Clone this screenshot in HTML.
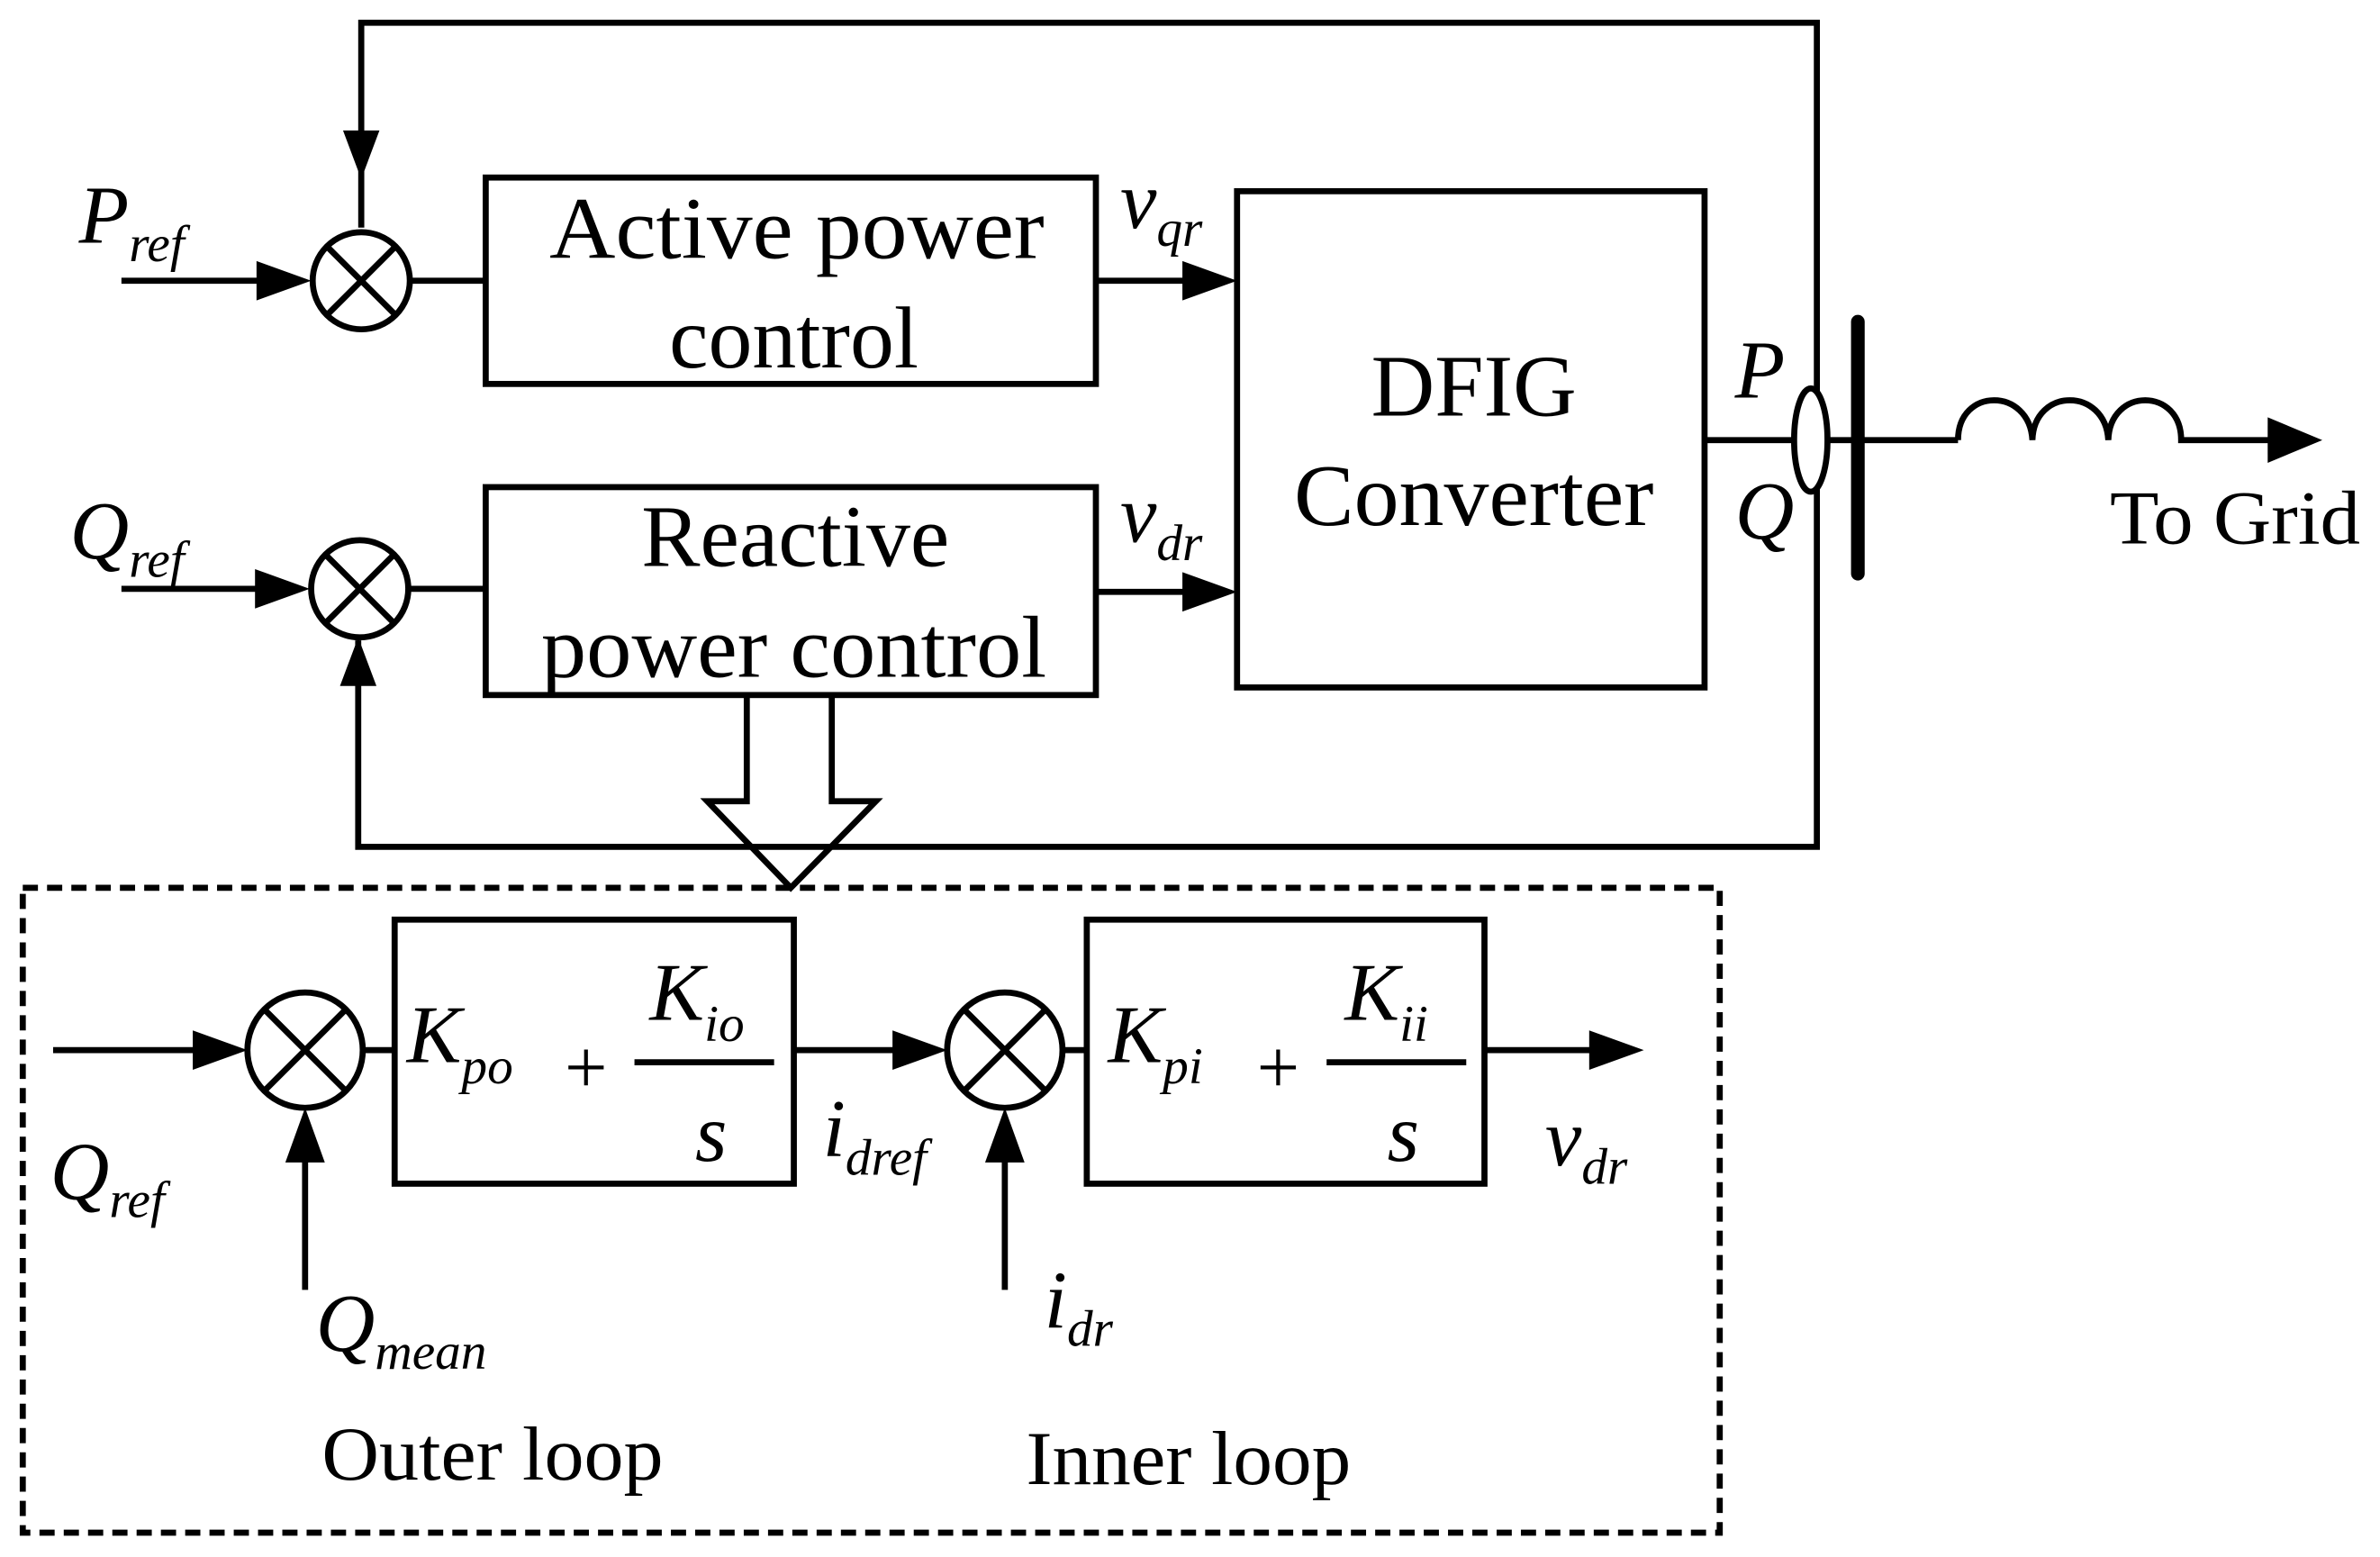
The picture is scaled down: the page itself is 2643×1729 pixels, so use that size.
<!DOCTYPE html>
<html><head><style>html,body{margin:0;padding:0;background:#fff}svg{display:block}</style></head>
<body>
<svg width="2643" height="1729" viewBox="0 0 1568 1026" preserveAspectRatio="none" xmlns="http://www.w3.org/2000/svg" font-family="Liberation Serif, serif" fill="none" stroke="#000" stroke-width="4">
<g>
<polyline points="238,150 238,15 1197,15 1197,558 236,558 236,422"/>
<path d="M238,118 l-12,-32 h24z" fill="#000" stroke="none"/>
<path d="M236,420 l-12,32 h24z" fill="#000" stroke="none"/>
<circle cx="238" cy="185" r="32"/><path d="M215,162L261,208M261,162L215,208"/>
<circle cx="237" cy="388" r="32"/><path d="M214,365L260,411M260,365L214,411"/>
<line x1="80" y1="185" x2="170" y2="185"/><path d="M205,185 l-36,-13 v26z" fill="#000" stroke="none"/>
<line x1="80" y1="388" x2="170" y2="388"/><path d="M204,388 l-36,-13 v26z" fill="#000" stroke="none"/>
<line x1="270" y1="185" x2="320" y2="185"/><line x1="269" y1="388" x2="320" y2="388"/>
<rect x="320" y="117" width="402" height="136"/>
<rect x="320" y="321" width="402" height="137"/>
<line x1="722" y1="185" x2="780" y2="185"/><path d="M815,185 l-36,-13 v26z" fill="#000" stroke="none"/>
<line x1="722" y1="390" x2="780" y2="390"/><path d="M815,390 l-36,-13 v26z" fill="#000" stroke="none"/>
<rect x="815" y="126" width="308" height="327"/>
<line x1="1123" y1="290" x2="1290" y2="290"/>
<ellipse cx="1193" cy="290" rx="11" ry="34" fill="#fff"/>
<line x1="1224" y1="212" x2="1224" y2="378" stroke-width="9" stroke-linecap="round"/>
<path d="M1290,290 C1290,255 1337,255 1339,290 C1340,255 1387,255 1389,290 C1390,255 1437,255 1437,290 H1495"/>
<path d="M1530,290 l-36,-15 v30z" fill="#000" stroke="none"/>
<polyline points="492,458 492,528 466,528 521,585 577,528 548,528 548,458"/>
<rect x="15" y="585" width="1118" height="425" stroke-dasharray="10,6"/>
<line x1="35" y1="692" x2="130" y2="692"/><path d="M163,692 l-36,-13 v26z" fill="#000" stroke="none"/>
<circle cx="201" cy="692" r="38"/><path d="M174,665L228,719M228,665L174,719"/>
<line x1="239" y1="692" x2="260" y2="692"/>
<rect x="260" y="606" width="263" height="174"/>
<line x1="418" y1="700" x2="510" y2="700"/>
<line x1="523" y1="692" x2="590" y2="692"/><path d="M624,692 l-36,-13 v26z" fill="#000" stroke="none"/>
<circle cx="662" cy="692" r="38"/><path d="M635,665L689,719M689,665L635,719"/>
<line x1="700" y1="692" x2="716" y2="692"/>
<rect x="716" y="606" width="262" height="174"/>
<line x1="874" y1="700" x2="966" y2="700"/>
<line x1="978" y1="692" x2="1050" y2="692"/><path d="M1083,692 l-36,-13 v26z" fill="#000" stroke="none"/>
<line x1="201" y1="850" x2="201" y2="765"/><path d="M201,730 l-13,36 h26z" fill="#000" stroke="none"/>
<line x1="662" y1="850" x2="662" y2="765"/><path d="M662,730 l-13,36 h26z" fill="#000" stroke="none"/>
</g>
<g fill="#000" stroke="none" font-size="58">
<text x="525" y="170" text-anchor="middle" textLength="326" lengthAdjust="spacingAndGlyphs">Active power</text>
<text x="523" y="242" text-anchor="middle">control</text>
<text x="524" y="373" text-anchor="middle">Reactive</text>
<text x="523" y="446" text-anchor="middle" textLength="333" lengthAdjust="spacingAndGlyphs">power control</text>
<text x="971" y="274" text-anchor="middle">DFIG</text>
<text x="971" y="346" text-anchor="middle" textLength="237" lengthAdjust="spacingAndGlyphs">Converter</text>
<text x="1390" y="358" font-size="50" textLength="165" lengthAdjust="spacingAndGlyphs">To Grid</text>
<text x="212" y="975" font-size="50" textLength="225" lengthAdjust="spacingAndGlyphs">Outer loop</text>
<text x="676" y="978" font-size="50" textLength="214" lengthAdjust="spacingAndGlyphs">Inner loop</text>
<g font-style="italic" font-size="54">
<text x="52" y="160">P<tspan font-size="34" dy="12">ref</tspan></text>
<text x="46" y="368">Q<tspan font-size="34" dy="12">ref</tspan></text>
<text x="738" y="150">v<tspan font-size="34" dy="12">qr</tspan></text>
<text x="738" y="357">v<tspan font-size="34" dy="12">dr</tspan></text>
<text x="1143" y="262">P</text>
<text x="1143" y="355">Q</text>
<text x="268" y="700">K<tspan font-size="34" dy="14">po</tspan></text>
<text x="372" y="720" font-style="normal" font-size="50">+</text>
<text x="428" y="672">K<tspan font-size="34" dy="14">io</tspan></text>
<text x="458" y="765">s</text>
<text x="730" y="700">K<tspan font-size="34" dy="14">pi</tspan></text>
<text x="828" y="720" font-style="normal" font-size="50">+</text>
<text x="886" y="672">K<tspan font-size="34" dy="14">ii</tspan></text>
<text x="914" y="765">s</text>
<text x="542" y="762">i<tspan font-size="34" dy="12">dref</tspan></text>
<text x="1018" y="768">v<tspan font-size="34" dy="12">dr</tspan></text>
<text x="33" y="790">Q<tspan font-size="34" dy="12">ref</tspan></text>
<text x="208" y="890">Q<tspan font-size="34" dy="12">mean</tspan></text>
<text x="688" y="875">i<tspan font-size="34" dy="12">dr</tspan></text>
</g>
</g>
</svg>
</body></html>
